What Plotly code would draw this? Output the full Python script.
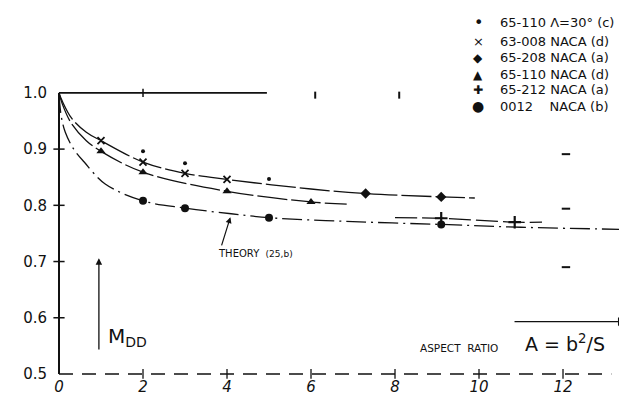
import plotly.graph_objects as go

# ---------------- data ----------------
ar_65110_sw = [2, 3, 5]
m_65110_sw = [0.896, 0.875, 0.847]
ar_63008 = [1, 2, 3, 4]
m_63008 = [0.915, 0.877, 0.857, 0.846]
ar_65208 = [7.3, 9.1]
m_65208 = [0.821, 0.815]
ar_65110 = [1, 2, 4, 6]
m_65110 = [0.896, 0.859, 0.825, 0.806]
ar_65212 = [9.1, 10.85]
m_65212 = [0.777, 0.770]
ar_0012 = [2, 3, 5, 9.1]
m_0012 = [0.808, 0.795, 0.778, 0.766]

# faired curves
upper_x = [0, 0.08, 0.3, 0.65, 1, 2, 3, 4, 6, 7.3, 9.1, 9.9]
upper_y = [1.0, 0.985, 0.955, 0.93, 0.915, 0.877, 0.857, 0.846, 0.829, 0.821, 0.815, 0.813]
mid_x = [0, 0.08, 0.3, 0.65, 1, 2, 4, 6, 6.85]
mid_y = [1.0, 0.98, 0.945, 0.915, 0.896, 0.859, 0.825, 0.806, 0.802]
theory_x = [0, 0.05, 0.15, 0.35, 0.6, 1.1, 2, 3, 4.1, 5, 7, 9.1, 11, 13.6]
theory_y = [1.0, 0.96, 0.93, 0.9, 0.877, 0.838, 0.808, 0.795, 0.785, 0.778, 0.771, 0.766, 0.761, 0.757]
c212_x = [8, 9.1, 10.85, 11.5]
c212_y = [0.778, 0.777, 0.770, 0.770]

x_ticks = [0, 2, 4, 6, 8, 10, 12]
x_ticklabels = ["0", "2", "4", "6", "8", "10", "12"]
y_ticks = [0.5, 0.6, 0.7, 0.8, 0.9, 1.0]
y_ticklabels = ["0.5", "0.6", "0.7", "0.8", "0.9", "1.0"]

legend_symbols = ["•", "×", "◆", "▲", "✚", "●"]
legend_labels = ["65-110 Λ=30° (c)", "63-008 NACA (d)", "65-208 NACA (a)",
                 "65-110 NACA (d)", "65-212 NACA (a)", "0012\u00a0\u00a0\u00a0\u00a0NACA (b)"]

# stray tick remnants on the original drawing
top_marks_x = [6.1, 8.1]
top_marks_y = [0.996, 0.996]
right_marks_x = [12.07, 12.07, 12.07]
right_marks_y = [0.891, 0.794, 0.690]

INK = "#111111"
FONT = "DejaVu Sans"

fig = go.Figure()

# axes drawn as lines
fig.add_trace(go.Scatter(x=[0, 0], y=[y_ticks[0], y_ticks[-1]], mode="lines",
                         line=dict(color=INK, width=2), hoverinfo="skip", showlegend=False))
fig.add_trace(go.Scatter(x=[0] * len(y_ticks[1:-1]), y=y_ticks[1:-1], mode="markers",
                         marker=dict(symbol="line-ew", size=8, line=dict(color=INK, width=1.5)),
                         hoverinfo="skip", showlegend=False))
fig.add_trace(go.Scatter(x=[0, 13.15], y=[0.5, 0.5], mode="lines",
                         line=dict(color=INK, width=1.5, dash="14px,9px"), hoverinfo="skip", showlegend=False))
fig.add_trace(go.Scatter(x=x_ticks[1:], y=[0.5] * len(x_ticks[1:]), mode="markers",
                         marker=dict(symbol="line-ns", size=7, line=dict(color=INK, width=1.3)),
                         hoverinfo="skip", showlegend=False))
fig.add_trace(go.Scatter(x=[0, 4.95], y=[1.0, 1.0], mode="lines",
                         line=dict(color=INK, width=1.6), hoverinfo="skip", showlegend=False))
fig.add_trace(go.Scatter(x=[2], y=[1.0], mode="markers",
                         marker=dict(symbol="line-ns", size=6, line=dict(color=INK, width=1.5)),
                         hoverinfo="skip", showlegend=False))
fig.add_trace(go.Scatter(x=top_marks_x, y=top_marks_y, mode="markers",
                         marker=dict(symbol="line-ns", size=5, line=dict(color=INK, width=2)),
                         hoverinfo="skip", showlegend=False))
fig.add_trace(go.Scatter(x=right_marks_x, y=right_marks_y, mode="markers",
                         marker=dict(symbol="line-ew", size=6, line=dict(color=INK, width=2)),
                         hoverinfo="skip", showlegend=False))

# faired curves
fig.add_trace(go.Scatter(x=upper_x, y=upper_y, mode="lines", line_shape="spline",
                         line=dict(color=INK, width=1.3, dash="30px,4px"), hoverinfo="skip", showlegend=False))
fig.add_trace(go.Scatter(x=mid_x, y=mid_y, mode="lines", line_shape="spline",
                         line=dict(color=INK, width=1.3, dash="30px,4px"), hoverinfo="skip", showlegend=False))
fig.add_trace(go.Scatter(x=theory_x, y=theory_y, mode="lines", line_shape="spline",
                         line=dict(color=INK, width=1.3, dash="20px,5px,2px,5px"), hoverinfo="skip", showlegend=False))
fig.add_trace(go.Scatter(x=c212_x, y=c212_y, mode="lines", line_shape="spline",
                         line=dict(color=INK, width=1.3, dash="22px,5px"), hoverinfo="skip", showlegend=False))

# test points
fig.add_trace(go.Scatter(x=ar_65110_sw, y=m_65110_sw, mode="markers", name=legend_labels[0],
                         marker=dict(symbol="circle", size=4, color=INK), showlegend=False))
fig.add_trace(go.Scatter(x=ar_63008, y=m_63008, mode="markers", name=legend_labels[1],
                         marker=dict(symbol="x-thin", size=7, line=dict(color=INK, width=1.8)), showlegend=False))
fig.add_trace(go.Scatter(x=ar_65208, y=m_65208, mode="markers", name=legend_labels[2],
                         marker=dict(symbol="diamond", size=8, color=INK), showlegend=False))
fig.add_trace(go.Scatter(x=ar_65110, y=m_65110, mode="markers", name=legend_labels[3],
                         marker=dict(symbol="triangle-up", size=8, color=INK), showlegend=False))
fig.add_trace(go.Scatter(x=ar_65212, y=m_65212, mode="markers", name=legend_labels[4],
                         marker=dict(symbol="cross-thin", size=9, line=dict(color=INK, width=2.2)), showlegend=False))
fig.add_trace(go.Scatter(x=ar_0012, y=m_0012, mode="markers", name=legend_labels[5],
                         marker=dict(symbol="circle", size=8, color=INK), showlegend=False))

annotations = []
# legend as text
leg_y = [1.1246, 1.0920, 1.0623, 1.0326, 1.0059, 0.9763]
sym_size = [16, 13, 12, 12, 12, 14]
for s, lab, yy, ss in zip(legend_symbols, legend_labels, leg_y, sym_size):
    annotations.append(dict(x=9.98, y=yy, xref="x", yref="y", text=s, showarrow=False,
                            xanchor="center", yanchor="middle", font=dict(family=FONT, size=ss, color=INK)))
    annotations.append(dict(x=10.45, y=yy, xref="x", yref="y", text=lab, showarrow=False,
                            xanchor="left", yanchor="middle", font=dict(family=FONT, size=13, color=INK)))

# theory label + arrow
annotations.append(dict(x=3.74, y=0.715, xref="x", yref="y", xanchor="left", yanchor="middle",
                        text="THEORY\u00a0\u00a0<span style='font-size:9px'>(25,b)</span>",
                        showarrow=False, font=dict(family=FONT, size=10, color=INK)))
annotations.append(dict(x=4.08, y=0.779, ax=3.86, ay=0.726, xref="x", yref="y", axref="x", ayref="y",
                        text="", showarrow=True, arrowhead=2, arrowsize=1, arrowwidth=1.2, arrowcolor=INK))
# M_DD arrow + label
annotations.append(dict(x=0.95, y=0.706, ax=0.95, ay=0.541, xref="x", yref="y", axref="x", ayref="y",
                        text="", showarrow=True, arrowhead=2, arrowsize=1, arrowwidth=1.3, arrowcolor=INK))
annotations.append(dict(x=1.12, y=0.565, xref="x", yref="y", xanchor="left", yanchor="middle",
                        text="M<sub>DD</sub>", showarrow=False, font=dict(family=FONT, size=20, color=INK)))
# aspect ratio arrow + label
annotations.append(dict(x=13.42, y=0.593, ax=10.81, ay=0.593, xref="x", yref="y", axref="x", ayref="y",
                        text="", showarrow=True, arrowhead=1, arrowsize=1.2, arrowwidth=1.3, arrowcolor=INK))
annotations.append(dict(x=8.54, y=0.547, xref="x", yref="y", xanchor="left", yanchor="middle",
                        text="ASPECT\u00a0\u00a0RATIO", showarrow=False, font=dict(family=FONT, size=10.5, color=INK)))
annotations.append(dict(x=11.05, y=0.555, xref="x", yref="y", xanchor="left", yanchor="middle",
                        text="A = b<sup>2</sup>/S", showarrow=False, font=dict(family=FONT, size=19, color=INK)))

fig.update_layout(
    width=627, height=399,
    margin=dict(l=40, r=0, t=0, b=26),
    paper_bgcolor="white", plot_bgcolor="white",
    showlegend=False,
    annotations=annotations,
    xaxis=dict(range=[-0.262, 13.714], tickvals=x_ticks,
               ticktext=["<i>%s</i>" % t for t in x_ticklabels],
               showgrid=False, zeroline=False, showline=False, ticks="",
               ticklabelstandoff=-5,
               tickfont=dict(family=FONT, size=15, color=INK)),
    yaxis=dict(range=[0.4875, 1.151], tickvals=y_ticks, ticktext=y_ticklabels,
               showgrid=False, zeroline=False, showline=False, ticks="",
               tickfont=dict(family=FONT, size=15, color=INK)),
)

fig.write_html("out.html")
